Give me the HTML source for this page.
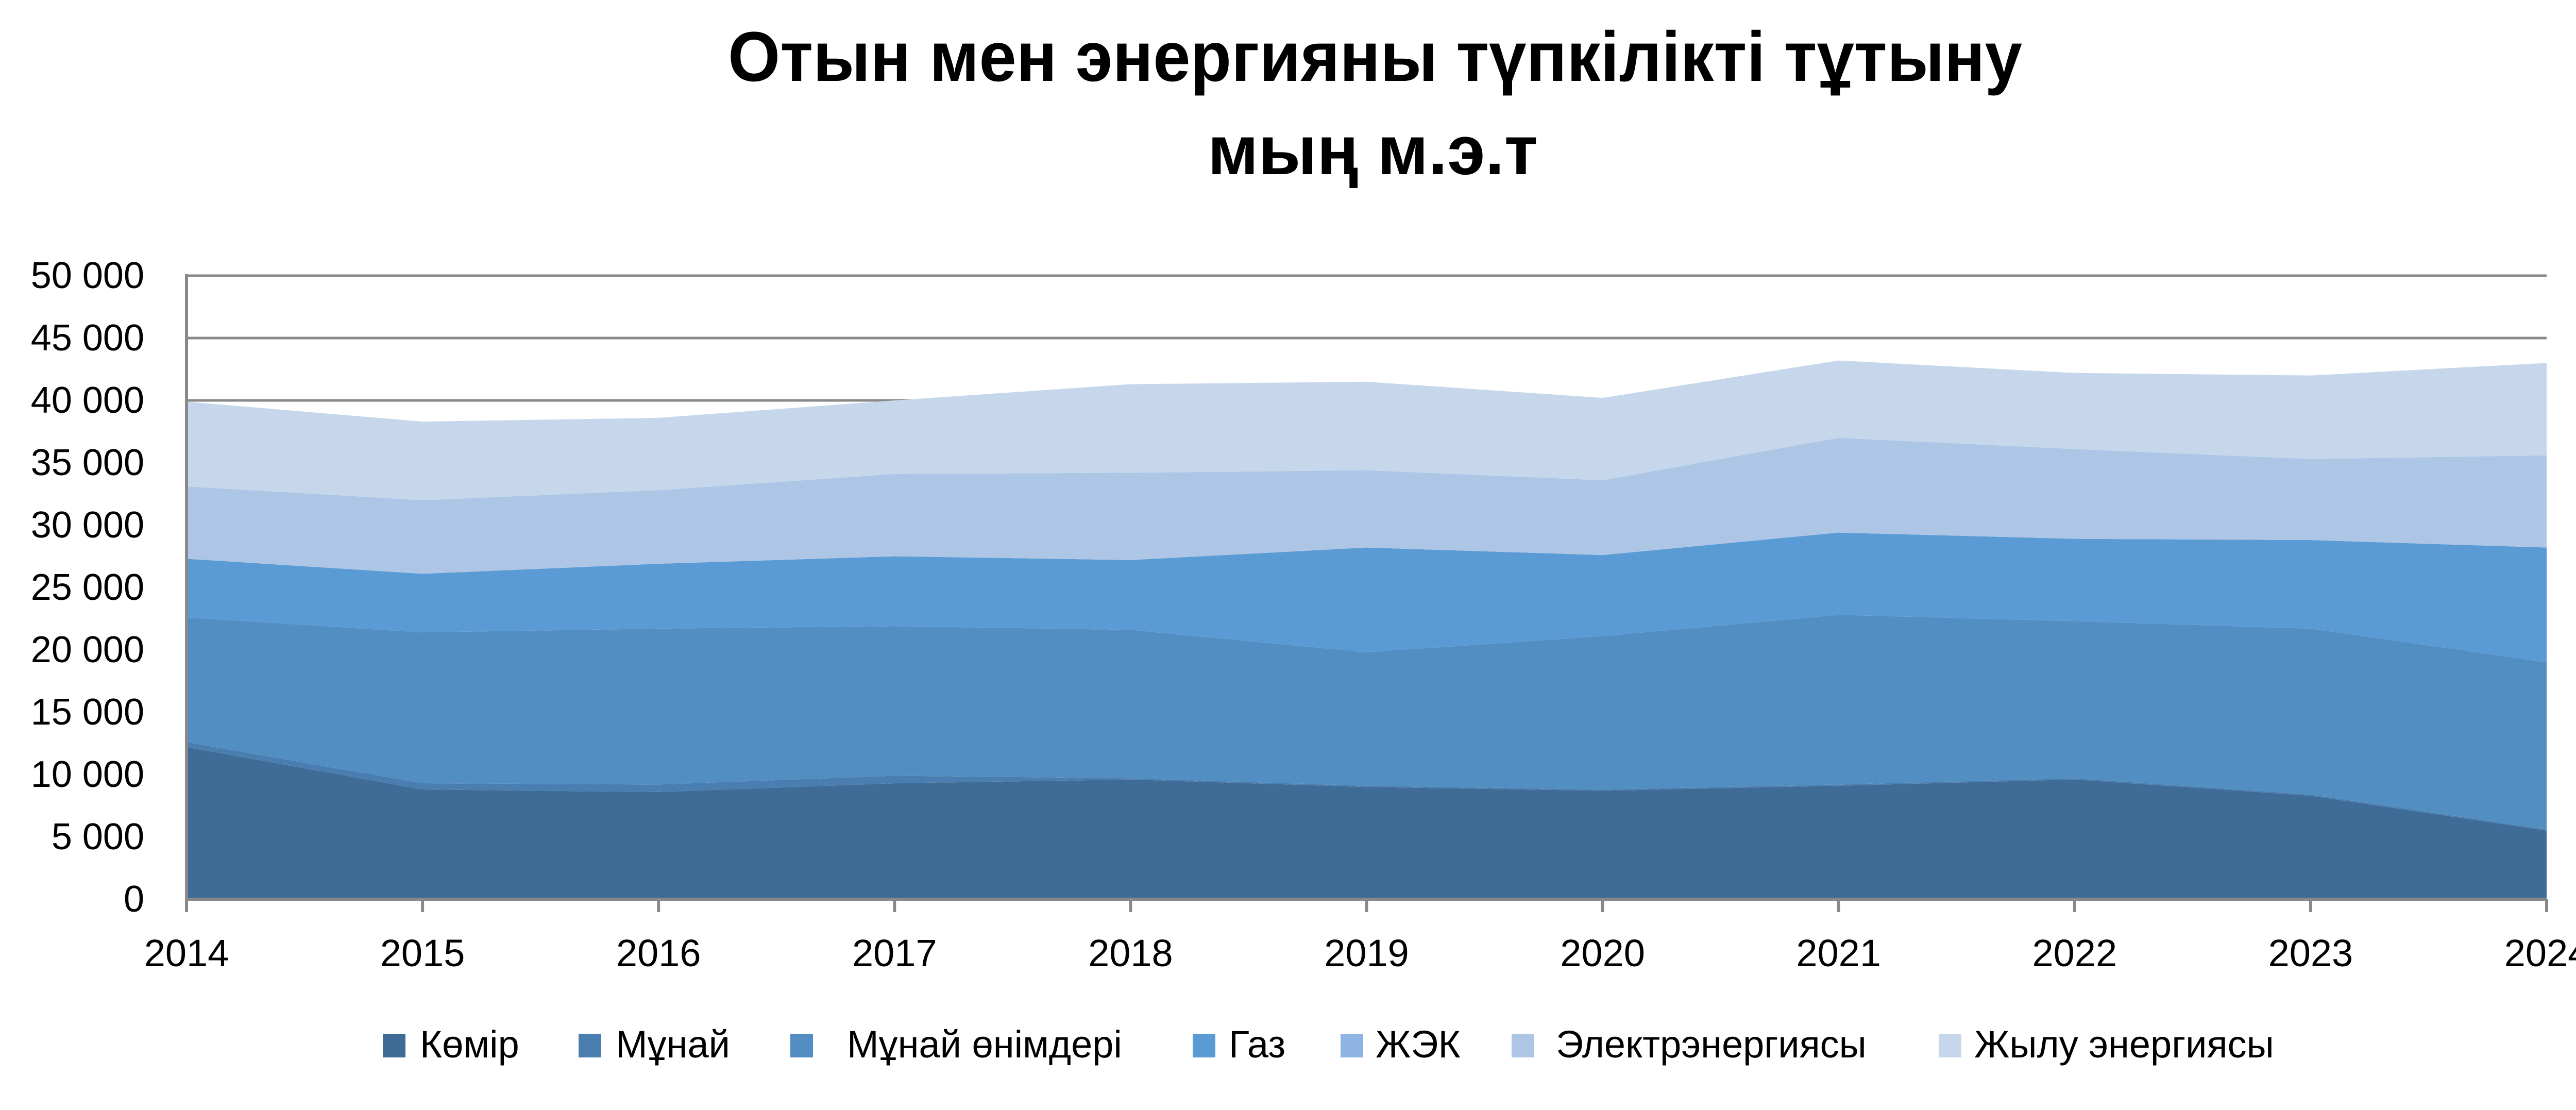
<!DOCTYPE html>
<html><head><meta charset="utf-8"><style>
html,body{margin:0;padding:0;background:#fff;}
svg{display:block;}
text{font-family:"Liberation Sans","DejaVu Sans",sans-serif;fill:#000;}
</style></head><body>
<svg id="c" width="5119" height="2154" viewBox="0 0 5119 2154" xmlns="http://www.w3.org/2000/svg">
<text x="1413" y="157" font-size="137" font-weight="bold" textLength="2512" lengthAdjust="spacingAndGlyphs">Отын мен энергияны түпкілікті тұтыну</text>
<text x="2344" y="338" font-size="135" font-weight="bold" textLength="641" lengthAdjust="spacingAndGlyphs">мың м.э.т</text>
<g id="grid" stroke="#898989" stroke-width="5"></g>
<g id="areas"></g>
<g id="axes" stroke="#898989" stroke-width="6"></g>
<g id="ylab" font-size="72" text-anchor="end"></g>
<g id="xlab" font-size="74" text-anchor="middle"></g>
<g font-size="74">
<rect x="743" y="2006" width="44" height="46" fill="#3F6C96"/><text x="815" y="2052">Көмір</text>
<rect x="1123" y="2006" width="44" height="46" fill="#4A7EB0"/><text x="1195" y="2052">Мұнай</text>
<rect x="1534" y="2006" width="44" height="46" fill="#528EC2"/><text x="1644" y="2052">Мұнай өнімдері</text>
<rect x="2315" y="2006" width="44" height="46" fill="#5B9BD5"/><text x="2385" y="2052">Газ</text>
<rect x="2602" y="2006" width="44" height="46" fill="#8DB4E2"/><text x="2670" y="2052">ЖЭК</text>
<rect x="2934" y="2006" width="44" height="46" fill="#ADC6E5"/><text x="3020" y="2052">Электрэнергиясы</text>
<rect x="3763" y="2006" width="44" height="46" fill="#C6D7EC"/><text x="3832" y="2052">Жылу энергиясы</text>
</g>
</svg>
<script>
var L=362,R=4943,B=1745,T=535,k=(B-T)/50;
function Y(v){return B-v*k;}
function X(i){return L+i*(R-L)/10;}
var tops=[
[12.2,8.8,8.6,9.3,9.6,9.0,8.7,9.1,9.6,8.3,5.5],
[12.6,9.3,9.2,9.9,9.7,9.1,8.8,9.2,9.7,8.4,5.6],
[22.6,21.4,21.7,21.9,21.6,19.8,21.1,22.8,22.3,21.7,19.0],
[27.3,26.1,26.9,27.5,27.2,28.2,27.6,29.4,28.9,28.8,28.2],
[27.3,26.1,26.9,27.5,27.2,28.2,27.6,29.4,28.9,28.8,28.2],
[33.1,32.0,32.8,34.1,34.2,34.4,33.6,37.0,36.1,35.3,35.6],
[39.9,38.3,38.6,40.0,41.3,41.5,40.2,43.2,42.2,42.0,43.0]];
var cols=["#3F6C96","#4A7EB0","#528EC2","#5B9BD5","#8DB4E2","#ADC6E5","#C6D7EC"];
var ns="http://www.w3.org/2000/svg";
function el(p,tag,attrs,txt){var e=document.createElementNS(ns,tag);for(var a in attrs)e.setAttribute(a,attrs[a]);if(txt!==undefined)e.textContent=txt;p.appendChild(e);return e;}
var g=document.getElementById("grid");
for(var v=0;v<=50;v+=5)el(g,"line",{x1:L,x2:R,y1:Y(v),y2:Y(v)});
var a=document.getElementById("areas");
for(var s=0;s<7;s++){var pts=[];for(var i=0;i<11;i++)pts.push(X(i)+","+Y(tops[s][i]));
for(var i=10;i>=0;i--)pts.push(X(i)+","+(s==0?B:Y(tops[s-1][i])));
el(a,"polygon",{points:pts.join(" "),fill:cols[s]});}
var ax=document.getElementById("axes");
el(ax,"line",{x1:L,y1:T-3,x2:L,y2:B+25});el(ax,"line",{x1:L,y1:B,x2:R,y2:B});
for(var i=0;i<11;i++)el(ax,"line",{x1:X(i),y1:B,x2:X(i),y2:B+25});
var yl=document.getElementById("ylab");
var labs=["0","5 000","10 000","15 000","20 000","25 000","30 000","35 000","40 000","45 000","50 000"];
for(var j=0;j<11;j++)el(yl,"text",{x:280,y:Y(j*5)+24},labs[j]);
var xl=document.getElementById("xlab");
for(var i=0;i<11;i++)el(xl,"text",{x:X(i),y:1875},String(2014+i));
</script>
</body></html>
